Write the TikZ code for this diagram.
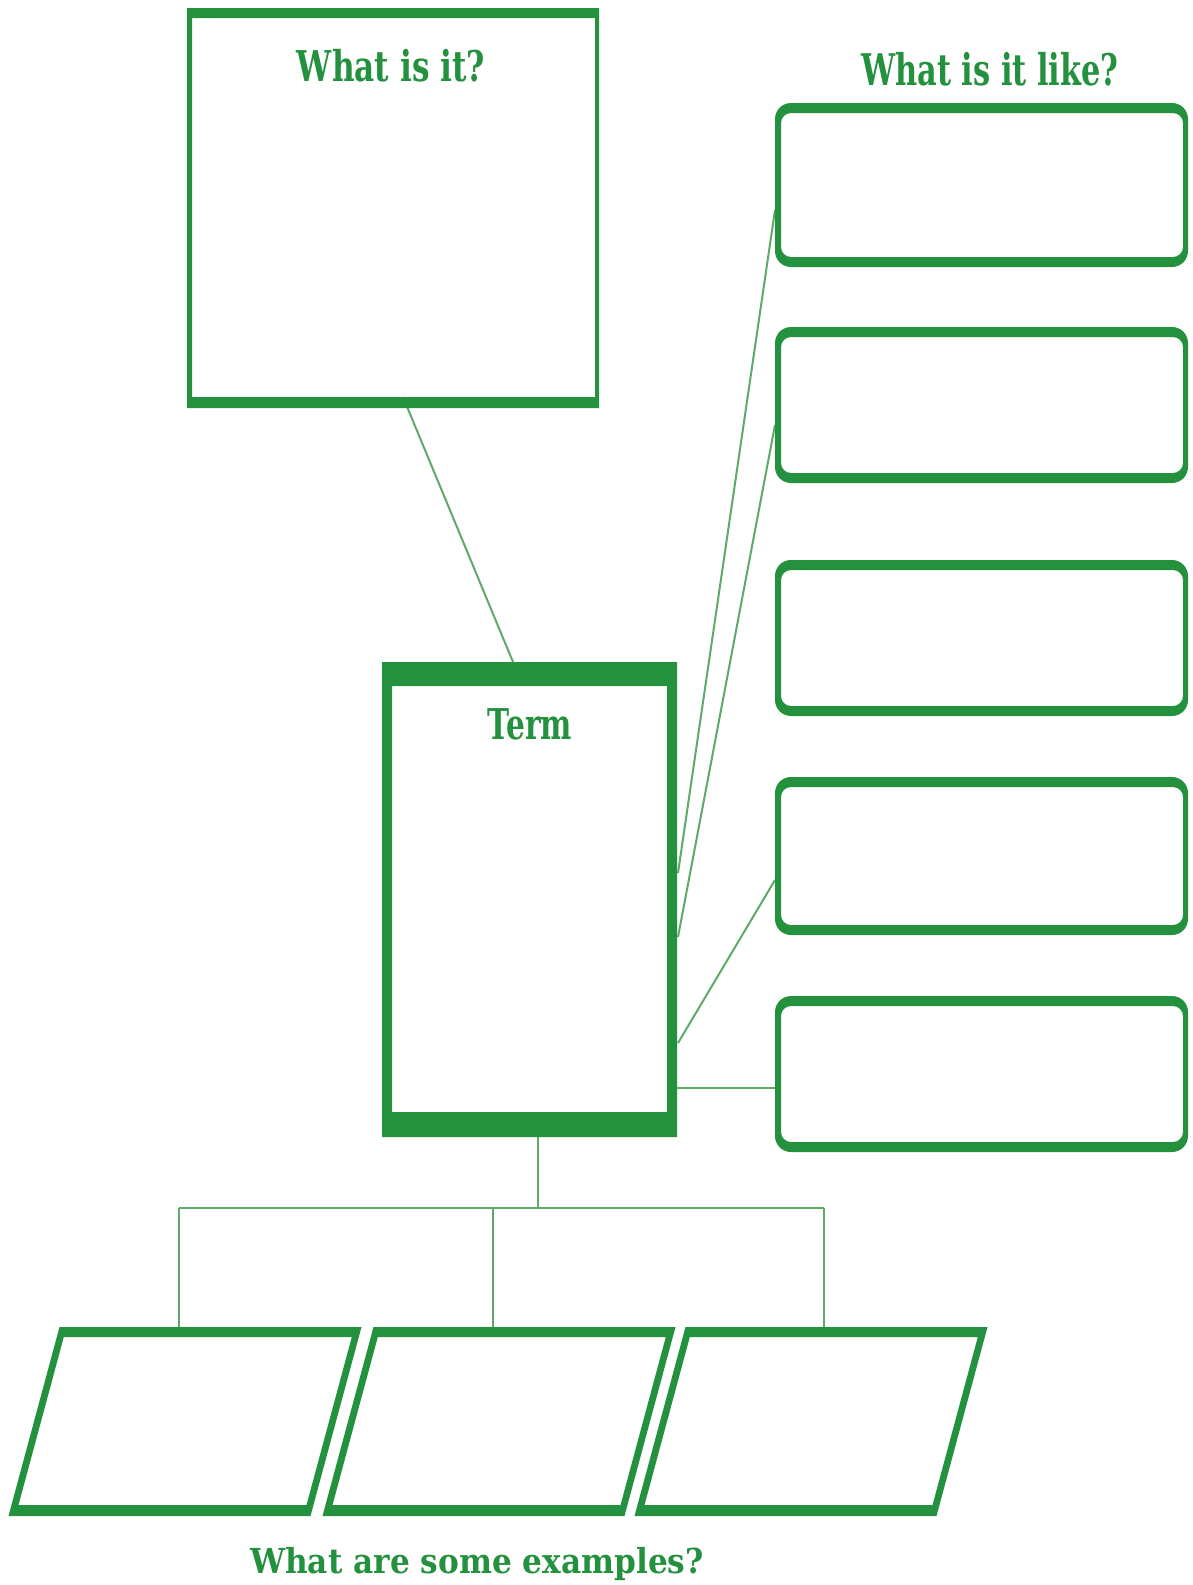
\documentclass[tikz,border=0pt]{standalone}
\usepackage{fontspec}
\setmainfont{DejaVu Serif}
\usepackage{graphicx}
\usetikzlibrary{calc}
\definecolor{gr}{RGB}{36,145,62}
\definecolor{ln}{RGB}{95,170,105}
\newcommand\paraborder[1]{%
  \fill[gr,even odd rule]
    ($(#1.north west)+(51,0)$) -- (#1.north east) -- ($(#1.south east)+(-51,0)$) -- (#1.south west) -- cycle
    ($(#1.north west)+(55.3,10)$) -- ($(#1.north west)+(343.3,10)$) -- ($(#1.north west)+(298,178)$) -- ($(#1.north west)+(10,178)$) -- cycle;}
\newcommand\roundborder[1]{%
  \fill[gr,even odd rule,rounded corners=16pt]
    (#1.north west) rectangle (#1.south east)
    [rounded corners=10pt] ($(#1.north west)+(6,10)$) rectangle ($(#1.south east)+(-5,-10)$);}
\begin{document}
\begin{tikzpicture}[x=1pt,y=-1pt,
  area/.style={inner sep=0pt,outer sep=0pt,draw=none},
  conn/.style={draw=ln,line width=2pt},
  lbl/.style={inner sep=0pt,anchor=base,text=gr,font=\fontsize{40}{48}\selectfont\bfseries}]
\useasboundingbox[fill=white] (0,0) rectangle (1192,1585);

% shapes (named areas)
\node[area,minimum width=412pt,minimum height=400pt] (q) at (393,208) {};
\node[area,minimum width=295pt,minimum height=475pt] (term) at (529.5,899.5) {};
\node[area,minimum width=413pt,minimum height=164pt] (r1) at (981.5,185) {};
\node[area,minimum width=413pt,minimum height=156pt] (r2) at (981.5,405) {};
\node[area,minimum width=413pt,minimum height=156pt] (r3) at (981.5,638) {};
\node[area,minimum width=413pt,minimum height=158pt] (r4) at (981.5,856) {};
\node[area,minimum width=413pt,minimum height=156pt] (r5) at (981.5,1074) {};
\node[area,minimum width=353pt,minimum height=189pt] (ex1) at (185,1421.5) {};
\node[area,minimum width=353pt,minimum height=189pt] (ex2) at (499,1421.5) {};
\node[area,minimum width=353pt,minimum height=189pt] (ex3) at (811,1421.5) {};

% connectors
\draw[conn] ($(q.south west)+(216,-11)$) -- ($(term.north west)+(131,0)$);
\draw[conn] ($(r1.north west)+(0,107)$) -- ($(term.north east)+(1,211)$);
\draw[conn] ($(r2.north west)+(0,98)$) -- ($(term.north east)+(1,275)$);
\draw[conn] ($(r4.north west)+(0,103)$) -- ($(term.north east)+(1,381)$);
\draw[conn] ($(term.north east)+(0,426)$) -- ($(r5.north west)+(0,92)$);

\coordinate (j) at (538,1208);
\coordinate (b1) at (179,1208);
\coordinate (b2) at (493,1208);
\coordinate (b3) at (824,1208);
\draw[conn] (term.south -| j) -- (j);
\draw[conn,line width=2.6pt] (b1) -- (b3);
\draw[conn] (b1) -- (b1 |- ex1.north);
\draw[conn] (b2) -- (b2 |- ex2.north);
\draw[conn] (b3) -- (b3 |- ex3.north);

% borders
\fill[gr,even odd rule] (q.north west) rectangle (q.south east)
  ($(q.north west)+(5,10)$) rectangle ($(q.south east)+(-4,-11)$);
\fill[gr,even odd rule] (term.north west) rectangle (term.south east)
  ($(term.north west)+(10,24)$) rectangle ($(term.south east)+(-10,-25)$);
\roundborder{r1}
\roundborder{r2}
\roundborder{r3}
\roundborder{r4}
\roundborder{r5}
\paraborder{ex1}
\paraborder{ex2}
\paraborder{ex3}

% labels
\node[lbl] (t1) at (391,81) {\scalebox{0.78}[1.06]{What is it?}};
\node[lbl] (t2) at (990,85) {\scalebox{0.76}[1.09]{What is it like?}};
\node[lbl] (t3) at (530,739) {\scalebox{0.74}[1.06]{Term}};
\node[lbl] (t4) at (477,1573) {\scalebox{0.78}[0.86]{What are some examples?}};
\end{tikzpicture}
\end{document}
